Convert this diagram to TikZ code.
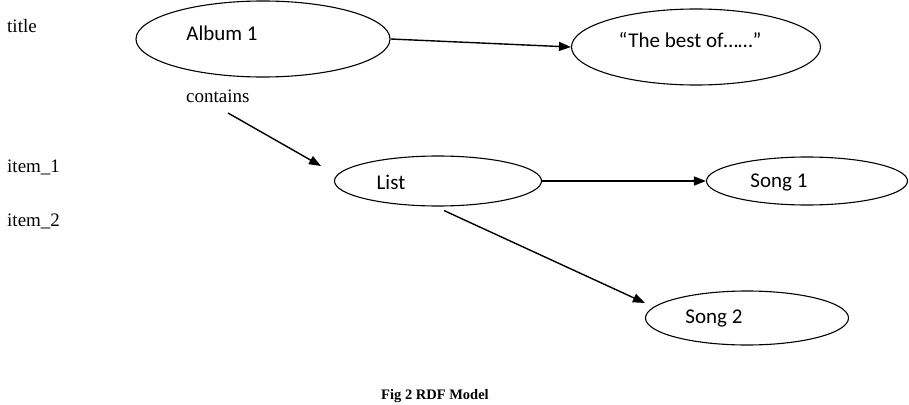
\documentclass[tikz,border=0pt]{standalone}
\usepackage{fontspec}
\setmainfont{Liberation Serif}
\newfontfamily\calibri{Carlito}
\usepackage{tikz}
\usetikzlibrary{arrows.meta,positioning,shapes.geometric}

\begin{document}
\begin{tikzpicture}[x=1pt, y=-1pt,
  res/.style={draw, ellipse, line width=1.1pt, inner sep=0pt},
  restext/.style={font=\calibri\fontsize{21}{24}\selectfont, inner sep=0pt},
  prop/.style={font=\fontsize{19}{22}\selectfont, inner sep=0pt, anchor=base west},
  arr/.style={-{Triangle[length=12pt, width=9pt]}, line width=1.4pt}
]
  \useasboundingbox (0,0) rectangle (909,404);

  % resources
  \node[res, minimum width=254pt, minimum height=76pt] (album) at (263,39)  {};
  \node[res, minimum width=249pt, minimum height=76pt] (best)  at (696,47)  {};
  \node[res, minimum width=207pt, minimum height=50pt] (list)  at (438,181) {};
  \node[res, minimum width=201pt, minimum height=48pt] (song1) at (807,181) {};
  \node[res, minimum width=203pt, minimum height=54pt] (song2) at (747,318) {};

  \node[restext] (albumtxt) at (222,33)  {Album 1};
  \node[restext] (besttxt)  at (690,40)  {“The best of……”};
  \node[restext] (listtxt)  at (391,182) {List};
  \node[restext] (song1txt) at (779,182) {Song 1};
  \node[restext] (song2txt) at (714,318) {Song 2};

  % properties
  \node[prop] (title)    at (7,33)    {title};
  \node[prop] (contains) at (186,102) {contains};
  \node[prop] (item1)    at (7,172)   {item\_1};
  \node[prop] (item2)    at (7,226)   {item\_2};

  \coordinate (cfrom) at (228,113);
  \coordinate (cto)   at (321,166);

  \draw[arr] (album.east) -- (best.west);
  \draw[arr] (cfrom) -- (cto);
  \draw[arr] (list.east) -- (song1.west);
  \draw[arr] (list.south) ++(6,4) -- ([yshift=15pt]song2.west);

  \node[font=\bfseries\fontsize{14.5}{17}\selectfont, anchor=base, inner sep=0pt]
    (caption) at (435,399) {Fig 2 RDF Model};
\end{tikzpicture}
\end{document}
